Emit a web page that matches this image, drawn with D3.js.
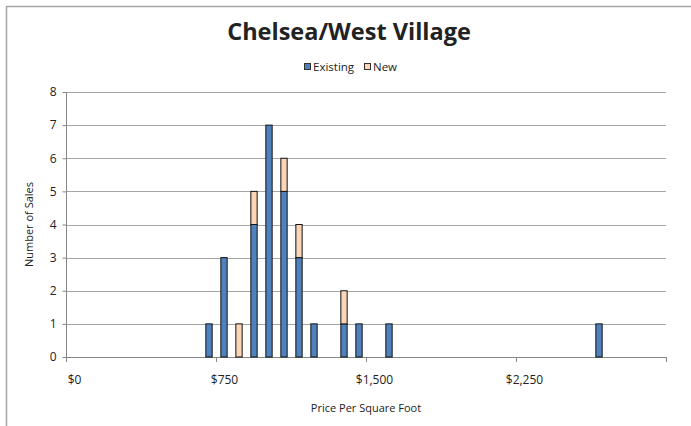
<!DOCTYPE html>
<html>
<head>
<meta charset="utf-8">
<script src="https://cdn.jsdelivr.net/npm/d3@7"></script>
<style>
  body { margin: 0; background: #fff; }
  text { font-family: "Open Sans", "DejaVu Sans", sans-serif; fill: #222; }
</style>
</head>
<body>
<svg width="691" height="426"></svg>
<script>
// bins of $75, lower bound of each bin
const binStarts = d3.range(0, 3000, 75);
const existing = [0,0,0,0,0,0,0,0,0,1, 3,0,4,7,5,3,1,0,1,1, 0,1,0,0,0,0,0,0,0,0, 0,0,0,0,0,1,0,0,0,0];
const newSales = [0,0,0,0,0,0,0,0,0,0, 0,1,1,0,1,1,0,0,1,0, 0,0,0,0,0,0,0,0,0,0, 0,0,0,0,0,0,0,0,0,0];
const yTicks = [0,1,2,3,4,5,6,7,8];
const seriesNames = ['Existing', 'New'];
const colors = ['#4F81BD', '#FBD5B5'];

const svg = d3.select('svg');
const width = +svg.attr('width');
const height = +svg.attr('height');

const margin = { top: 92, left: 66, right: 25, bottom: 69 };
const innerWidth = width - margin.left - margin.right;
const innerHeight = height - margin.top - margin.bottom;

// chart border (only top/left edges fall inside the frame)
svg.append('path')
    .attr('d', `M6.5,${height}V6.5H${width}`)
    .attr('fill', 'none')
    .attr('stroke', '#a6a6a6')
    .attr('stroke-width', 1.5);

const data = binStarts.map((b, i) => ({ bin: b, Existing: existing[i], New: newSales[i] }));
const stacked = d3.stack().keys(seriesNames)(data);

const xScale = d3.scaleBand()
    .domain(binStarts)
    .range([0, innerWidth])
    .paddingInner(0.58)
    .paddingOuter(0.29);

const yScale = d3.scaleLinear()
    .domain([0, 8])
    .range([innerHeight, 0]);

const g = svg.append('g')
    .attr('transform', `translate(${margin.left},${margin.top})`);

// gridlines
g.append('g')
    .selectAll('line')
    .data(yTicks.slice(1))
    .enter().append('line')
    .attr('x1', 0).attr('x2', innerWidth)
    .attr('y1', d => Math.round(yScale(d)) + 0.5)
    .attr('y2', d => Math.round(yScale(d)) + 0.5)
    .attr('stroke', '#a6a6a6');

// y axis
const yAxisGroup = g.append('g')
    .attr('transform', 'translate(0.5,0)')
    .call(d3.axisLeft(yScale).tickValues(yTicks).tickSize(4).tickPadding(6).tickFormat(d3.format('d')));
yAxisGroup.selectAll('.domain, .tick line').attr('stroke', '#868686');
yAxisGroup.selectAll('.domain').attr('d', `M0,0V${innerHeight}`);
yAxisGroup.selectAll('text').attr('font-size', 12).attr('fill', '#222')
    .attr('font-family', '"Open Sans", sans-serif');

// x axis: category boundaries every 10 bins
const step = xScale.step();
const xAxisGroup = g.append('g').attr('transform', `translate(0,${innerHeight})`);
xAxisGroup.append('line')
    .attr('x1', 0).attr('x2', innerWidth)
    .attr('y1', 0.5).attr('y2', 0.5)
    .attr('stroke', '#868686');
const labelBins = binStarts.filter((d, i) => i % 10 === 0);
xAxisGroup.selectAll('.xtick')
    .data(labelBins.concat([3000]))
    .enter().append('line')
    .attr('class', 'xtick')
    .attr('x1', d => Math.round(d / 75 * step) + 0.5)
    .attr('x2', d => Math.round(d / 75 * step) + 0.5)
    .attr('y1', 0).attr('y2', 5)
    .attr('stroke', '#868686');
xAxisGroup.selectAll('.xlabel')
    .data(labelBins)
    .enter().append('text')
    .attr('class', 'xlabel')
    .attr('x', d => xScale(d) + xScale.bandwidth() / 2 + 1)
    .attr('y', 27)
    .attr('text-anchor', 'middle')
    .attr('font-size', 12)
    .text(d => '$' + d3.format(',')(d));

// bars
g.append('g')
    .selectAll('g')
    .data(stacked)
    .enter().append('g')
    .attr('fill', (d, i) => colors[i])
    .selectAll('rect')
    .data(d => d.filter(p => p[1] > p[0]))
    .enter().append('rect')
    .attr('x', d => xScale(d.data.bin) + 0.5)
    .attr('y', d => yScale(d[1]))
    .attr('width', xScale.bandwidth())
    .attr('height', d => yScale(d[0]) - yScale(d[1]))
    .attr('stroke', '#111')
    .attr('stroke-width', 1);

// axis titles
g.append('text')
    .attr('x', innerWidth / 2)
    .attr('y', innerHeight + 55)
    .attr('text-anchor', 'middle')
    .attr('font-size', 11)
    .text('Price Per Square Foot');

g.append('text')
    .attr('transform', `translate(-33,${innerHeight / 2}) rotate(-90)`)
    .attr('text-anchor', 'middle')
    .attr('font-size', 11)
    .text('Number of Sales');

// title
svg.append('text')
    .attr('x', 349)
    .attr('y', 40)
    .attr('text-anchor', 'middle')
    .attr('font-size', 23.5)
    .attr('font-weight', 'bold')
    .attr('font-family', '"DejaVu Sans", sans-serif')
    .attr('fill', '#000')
    .text('Chelsea/West Village');

// legend
const legend = svg.append('g').attr('transform', 'translate(304,67)');
const legendX = [0, 60];
seriesNames.forEach((name, i) => {
    const item = legend.append('g').attr('transform', `translate(${legendX[i]},0)`);
    item.append('rect')
        .attr('x', 0.5).attr('y', -3.5)
        .attr('width', 6).attr('height', 6)
        .attr('fill', colors[i])
        .attr('stroke', '#333');
    item.append('text')
        .attr('x', 9)
        .attr('y', 4)
        .attr('font-size', 11.5)
        .text(name);
});
</script>
</body>
</html>
